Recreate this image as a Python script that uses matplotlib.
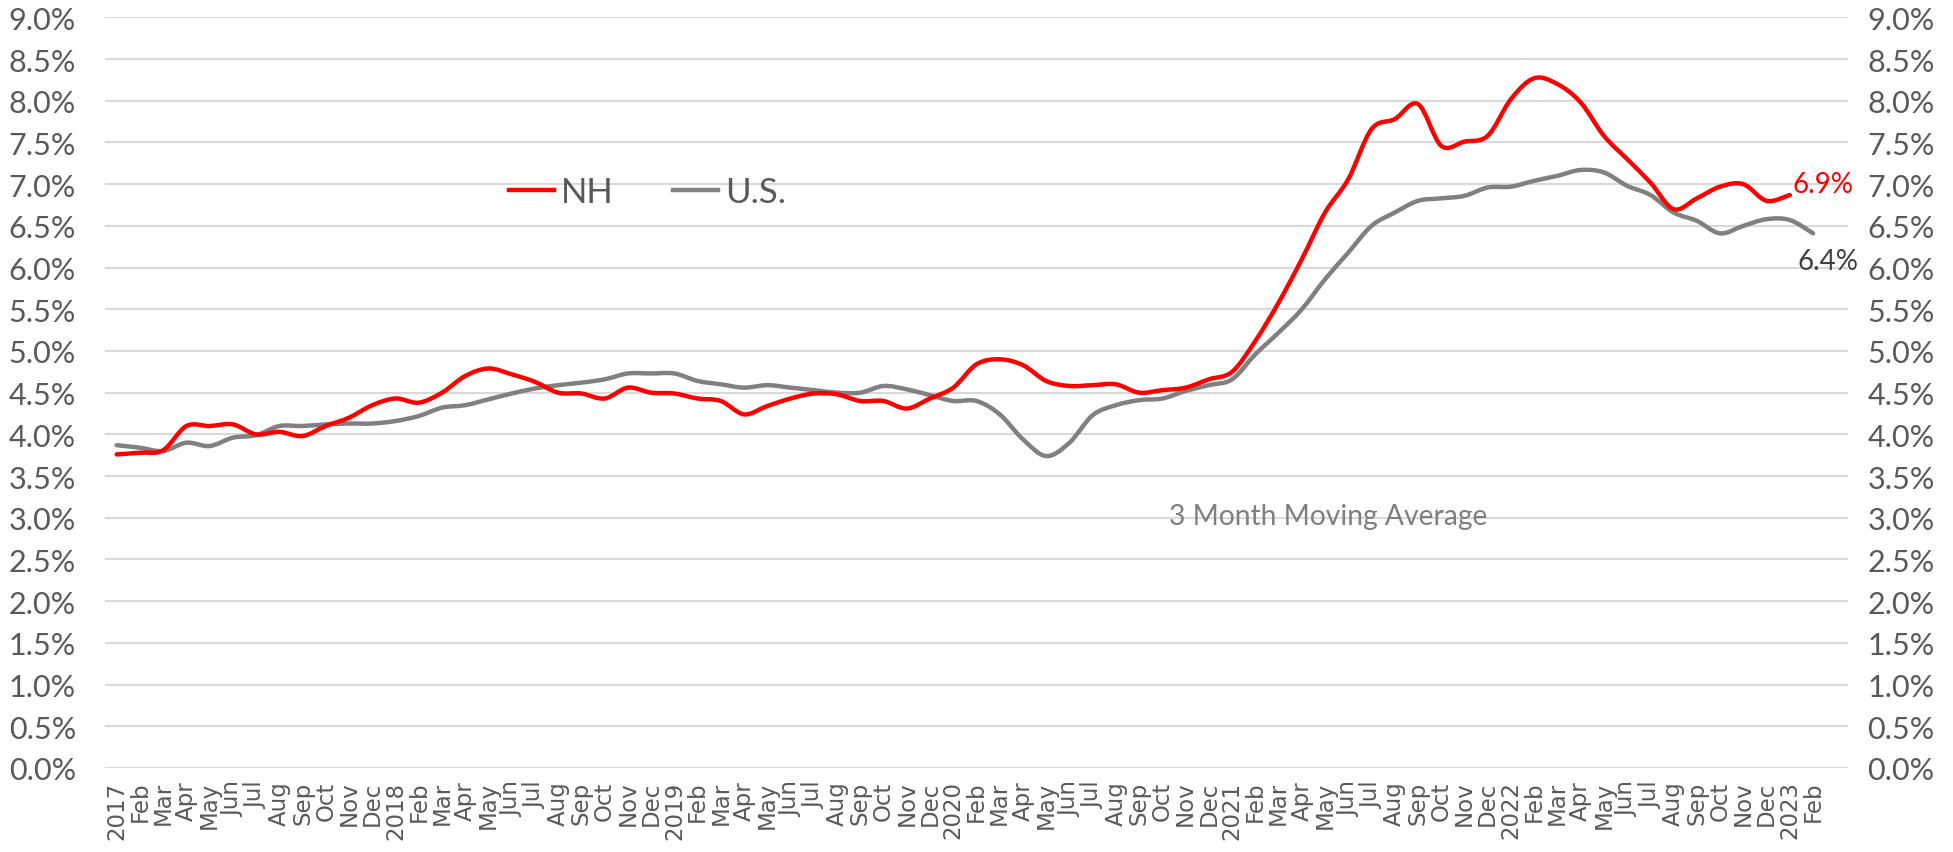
import numpy as np
import matplotlib
matplotlib.use("Agg")
import matplotlib.pyplot as plt
from matplotlib.path import Path
from matplotlib.patches import PathPatch
from matplotlib.lines import Line2D

plt.rcParams['font.family'] = ['Lato', 'DejaVu Sans']

# unemployment rate, 3 month moving average (%), Jan 2017 onward
nh = [3.76, 3.78, 3.81, 4.10, 4.10, 4.12, 4.00, 4.03, 3.98, 4.10, 4.20, 4.35,
      4.43, 4.38, 4.50, 4.70, 4.79, 4.72, 4.63, 4.50, 4.49, 4.43, 4.56, 4.50,
      4.49, 4.43, 4.40, 4.24, 4.34, 4.43, 4.49, 4.48, 4.40, 4.40, 4.31, 4.43,
      4.56, 4.84, 4.90, 4.83, 4.64, 4.58, 4.59, 4.60, 4.50, 4.53, 4.56, 4.66,
      4.75, 5.12, 5.58, 6.10, 6.66, 7.06, 7.66, 7.78, 7.96, 7.46, 7.51, 7.58,
      8.02, 8.27, 8.20, 7.98, 7.58, 7.30, 7.02, 6.70, 6.83, 6.97, 7.00, 6.80,
      6.87]
us = [3.87, 3.84, 3.80, 3.90, 3.86, 3.96, 3.99, 4.10, 4.10, 4.12, 4.13, 4.13,
      4.16, 4.22, 4.32, 4.35, 4.42, 4.49, 4.55, 4.59, 4.62, 4.66, 4.73, 4.73,
      4.73, 4.64, 4.60, 4.56, 4.59, 4.56, 4.53, 4.50, 4.50, 4.58, 4.54, 4.47,
      4.40, 4.40, 4.24, 3.94, 3.74, 3.90, 4.23, 4.35, 4.41, 4.43, 4.52, 4.59,
      4.66, 4.96, 5.22, 5.50, 5.86, 6.18, 6.50, 6.66, 6.80, 6.83, 6.86, 6.96,
      6.97, 7.04, 7.10, 7.17, 7.14, 6.98, 6.87, 6.66, 6.56, 6.41, 6.50, 6.58,
      6.57, 6.41]
years = [2017, 2018, 2019, 2020, 2021, 2022, 2023]
months = ["Jan", "Feb", "Mar", "Apr", "May", "Jun", "Jul", "Aug", "Sep", "Oct", "Nov", "Dec"]
n_slots = 75  # category axis has one empty slot at the end

labels = []
for y in years:
    for m in months:
        labels.append(str(y) if m == "Jan" else m)
labels = labels[:len(us)]


def smooth_path(yvals):
    # Excel style smoothed line: cubic bezier through each point
    x = np.arange(len(yvals), dtype=float)
    y = np.asarray(yvals, dtype=float)
    pts = np.column_stack([x, y])
    verts = [pts[0]]
    codes = [Path.MOVETO]
    n = len(pts)
    for i in range(n - 1):
        p0 = pts[max(i - 1, 0)]
        p1 = pts[i]
        p2 = pts[i + 1]
        p3 = pts[min(i + 2, n - 1)]
        c1 = p1 + (p2 - p0) / 6.0
        c2 = p2 - (p3 - p1) / 6.0
        verts += [c1, c2, p2]
        codes += [Path.CURVE4] * 3
    return Path(verts, codes)


red = "#ff0000"
grey = "#808080"
txt = "#595959"

fig = plt.figure(figsize=(19.53, 8.53), dpi=100)
ax = fig.add_axes([0.0538, 0.0985, 0.8924, 0.88])

ax.add_patch(PathPatch(smooth_path(us), fill=False, edgecolor=grey, lw=3.2,
                       capstyle="round", joinstyle="round", zorder=3))
ax.add_patch(PathPatch(smooth_path(nh), fill=False, edgecolor=red, lw=3.2,
                       capstyle="round", joinstyle="round", zorder=4))

ax.set_xlim(-0.5, n_slots - 0.5)
ax.set_ylim(0, 9)
yt = np.arange(0, 9.01, 0.5)
ax.set_yticks(yt)
ax.set_yticklabels(["%.1f%%" % v for v in yt])
ax.set_xticks(range(len(labels)))
ax.set_xticklabels(labels, rotation=90, family="DejaVu Sans", fontsize=16.5, color=txt)
ax.grid(axis="y", color="#d9d9d9", lw=1.5)
ax.set_axisbelow(True)
for s in ax.spines.values():
    s.set_visible(False)
ax.tick_params(axis="x", length=0, pad=9)
ax.tick_params(axis="y", length=0, pad=21, labelsize=22, labelcolor=txt)

ax2 = ax.twinx()
ax2.set_ylim(0, 9)
ax2.set_yticks(yt)
ax2.set_yticklabels(["%.1f%%" % v for v in yt])
ax2.tick_params(axis="y", length=0, pad=14, labelsize=22, labelcolor=txt)
for s in ax2.spines.values():
    s.set_visible(False)

ax.annotate("%.1f%%" % nh[-1], xy=(len(nh) - 1, nh[-1]), xytext=(2, 8),
            textcoords="offset points", ha="left", va="center",
            color=red, fontsize=20, zorder=6)
ax.annotate("%.1f%%" % us[-1], xy=(len(us) - 1, us[-1]), xytext=(11, -20),
            textcoords="offset points", ha="center", va="center",
            color="#404040", fontsize=20, zorder=6)

ax.text(0.702, 0.336, "3 Month Moving Average", transform=ax.transAxes,
        ha="center", va="center", color="#7f7f7f", fontsize=20.3)

handles = [Line2D([], [], color=red, lw=3.2), Line2D([], [], color=grey, lw=3.2)]
ax.legend(handles, ["NH", "U.S."], ncol=2, frameon=False, loc="center left",
          bbox_to_anchor=(0.2318, 0.767), borderaxespad=0, borderpad=0,
          handlelength=1.3, handletextpad=0.2, columnspacing=1.7,
          fontsize=25, labelcolor=txt)

fig.savefig("out.png", dpi=100)
